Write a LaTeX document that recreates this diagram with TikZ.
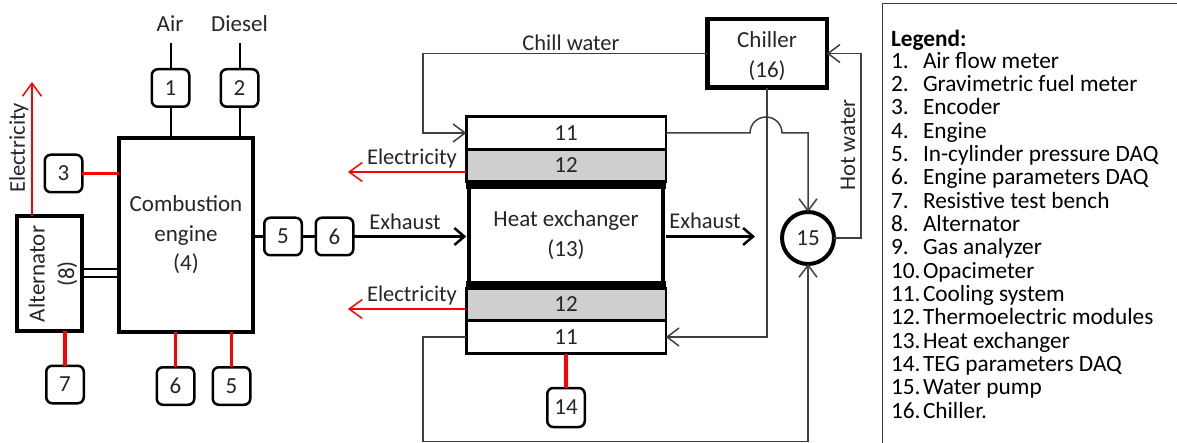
\documentclass[tikz,border=0pt]{standalone}
\usepackage{fontspec}
\setmainfont{Carlito}
\usetikzlibrary{arrows.meta,calc}
\definecolor{txt}{HTML}{262626}
\definecolor{wire}{HTML}{404040}
\definecolor{teg}{HTML}{D0CECE}
\definecolor{elec}{HTML}{FF0000}
\begin{document}
\begin{tikzpicture}[x=1pt,y=-1pt,
  every node/.style={font=\fontsize{23}{29.5}\selectfont, text=txt, inner sep=0pt, outer sep=0pt, align=center},
  meter/.style={draw=black, line width=2.5pt, rounded corners=6pt, minimum width=37.5pt, minimum height=37.5pt, fill=white},
  heavy/.style={draw=black, line width=4pt, fill=white},
  layer/.style={draw=black, line width=2.5pt, minimum width=199.5pt, fill=white},
  tegbox/.style={layer, fill=teg},
  lbl/.style={font=\fontsize{22.5}{28}\selectfont},
  blk/.style={draw=black, line width=2pt},
  redl/.style={draw=elec, line width=3.5pt},
  redarrow/.style={draw=elec, line width=1.5pt, -{Straight Barb[length=13pt,width=19pt]}},
  flow/.style={draw=wire, line width=1.5pt, -{Straight Barb[length=12pt,width=18pt]}},
  wirel/.style={draw=wire, line width=1.5pt},
  exh/.style={draw=black, line width=2.5pt, -{Straight Barb[length=10pt,width=17pt]}},
  legtxt/.style={anchor=base west, align=left, text=black, font=\fontsize{23.3}{23.3}\selectfont}]
\useasboundingbox (0,0) rectangle (1177,443);

% ---------------- left part: engine ----------------
\node (air) at (170,24) {Air};
\node (diesel) at (239.5,24) {Diesel};
\coordinate (airin) at (170,43);
\coordinate (dslin) at (239.5,43);
\node[meter] (b1) at (170.5,88) {1};
\node[meter] (b2) at (239.5,88) {2};
\node[heavy, minimum width=134pt, minimum height=194pt] (eng) at (186,235) {Combustion\\engine\\(4)};
\node[meter] (b3) at (63.5,173.5) {3};
\node[heavy, minimum width=65pt, minimum height=115pt] (alt) at (49.5,273.5) {};
\node[rotate=90] (altlbl) at (53,274) {Alternator\\(8)};
\node[meter] (b7) at (65,384.5) {7};
\node[meter] (b6b) at (175.5,386) {6};
\node[meter] (b5b) at (231.5,386) {5};
\node[meter] (b5r) at (283,236.5) {5};
\node[meter] (b6r) at (334.5,236.5) {6};

\draw[blk] (b1.north |- airin) -- (b1.north);
\draw[blk] (b1.south) -- (b1.south |- eng.north);
\draw[blk] (b2.north |- dslin) -- (b2.north);
\draw[blk] (b2.south) -- (b2.south |- eng.north);
\draw[redl] (b3.east) -- (b3.east -| eng.west);
\draw[blk] ([yshift=4.5pt]alt.east) -- ([yshift=4.5pt]alt.east -| eng.west);
\draw[blk] ([yshift=-3.5pt]alt.east) -- ([yshift=-3.5pt]alt.east -| eng.west);
\draw[redl] (b7.north |- alt.south) -- (b7.north);
\draw[redl] (b6b.north |- eng.south) -- (b6b.north);
\draw[redl] (b5b.north |- eng.south) -- (b5b.north);
\draw[blk, line width=2.5pt] (eng.east |- b5r.west) -- (b5r.west);
\draw[blk, line width=2.5pt] (b5r.east) -- (b6r.west);
\coordinate (e0) at (32,82);
\draw[redarrow] (e0 |- alt.north) -- (e0);
\node[lbl, rotate=90] (el0) at (19,148) {Electricity};

% ---------------- heat exchanger stack ----------------
\node[layer, minimum height=33pt] (t11) at (566,133) {11};
\node[tegbox, minimum height=32pt] (t12) at (566,165.5) {12};
\node[heavy, minimum width=194pt, minimum height=100pt] (hx) at (566,235) {Heat exchanger\\(13)};
\fill[black] (466,181) rectangle (666,189);
\fill[black] (466,281) rectangle (666,289);
\node[tegbox, minimum height=32pt] (b12) at (566,304.5) {12};
\node[layer, minimum height=33pt] (b11) at (566,337) {11};
\node[meter, minimum height=39pt] (b14) at (566,407.5) {14};
\draw[redl] (b11.south) -- (b14.north);

\draw[exh] (b6r.east) -- (b6r.east -| t11.west);
\node[lbl] (exh1) at (405,222) {Exhaust};
\coordinate (exout) at (755,236.5);
\draw[exh] (t11.east |- exout) -- (exout);
\node[lbl] (exh2) at (705,221) {Exhaust};

\coordinate (e1) at (348,172);
\coordinate (e2) at (348,309);
\draw[redarrow] (t12.west |- e1) -- (e1);
\draw[redarrow] (b12.west |- e2) -- (e2);
\node[lbl] (el1) at (412,159) {Electricity};
\node[lbl] (el2) at (412,296) {Electricity};

% ---------------- cooling loop ----------------
\node[heavy, line width=4.5pt, minimum width=119.5pt, minimum height=68.5pt] (ch) at (767,53.5) {};
\node (chlbl) at (767,56) {Chiller\\(16)};
\node[circle, draw=black, line width=4pt, minimum size=52pt, fill=white] (p15) at (808,238) {15};

\coordinate (cwl) at (423,53);
\draw[flow] (ch.west) -- (cwl |- ch.west) -- (cwl |- t11.west) -- (t11.west);
\node[lbl] (chw) at (571,43) {Chill water};

\coordinate (bumpL) at (750,133);
\draw[flow] (t11.east) -- (bumpL) arc[start angle=180, end angle=360, radius=16] -- (p15.north |- t11.east) -- (p15.north);
\draw[flow] (ch.south) -- (ch.south |- b11.east) -- (b11.east);

\coordinate (hwr) at (861,238);
\draw[flow] (p15.east) -- (hwr) -- (hwr |- ch.east) -- (ch.east);
\node[lbl, rotate=90] (hw) at (848,145) {Hot water};

\coordinate (bl) at (423,441.5);
\draw[flow] (b11.west) -- (bl |- b11.west) -- (bl) -- (bl -| p15.south) -- (p15.south);

% ---------------- legend ----------------
\draw[wirel] (1177,3.5) -- (882.5,3.5) -- (882.5,443);
\node[legtxt] (leg0) at (891,47) {\textbf{Legend:}};
\foreach \i/\t in {1/Air flow meter,2/Gravimetric fuel meter,3/Encoder,4/Engine,5/In-cylinder pressure DAQ,6/Engine parameters DAQ,7/Resistive test bench,8/Alternator,9/Gas analyzer,10/Opacimeter,11/Cooling system,12/Thermoelectric modules,13/Heat exchanger,14/TEG parameters DAQ,15/Water pump,16/Chiller.}
  \node[legtxt] (leg\i) at (891,{68.3+(\i-1)*23.33}) {\makebox[32pt][l]{\i.}\t};
\end{tikzpicture}
\end{document}
